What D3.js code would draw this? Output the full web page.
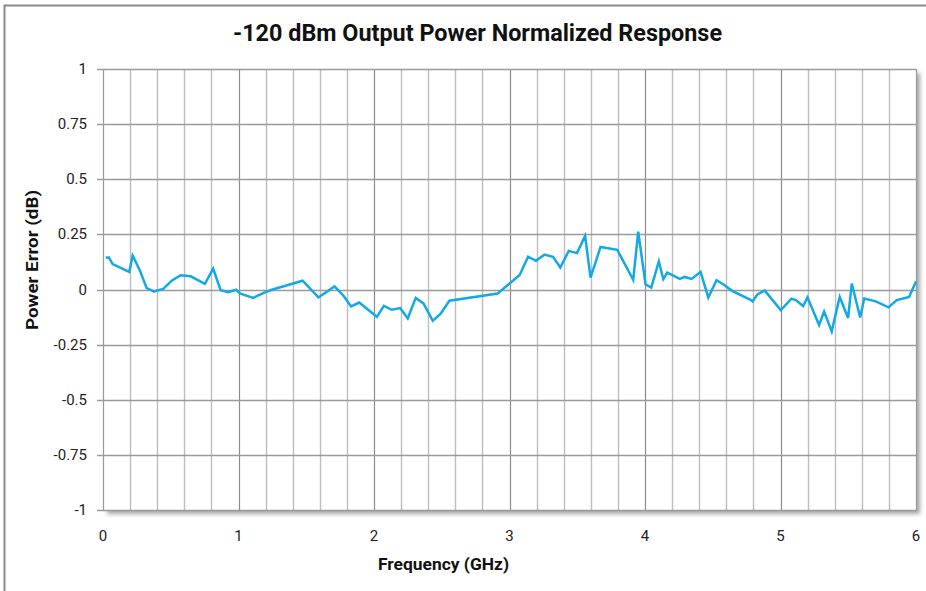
<!DOCTYPE html>
<html><head><meta charset="utf-8">
<script src="https://cdn.jsdelivr.net/npm/d3@7"></script>
<style>
html,body{margin:0;padding:0;background:#fff;overflow:hidden}
text{font-family:Roboto,"Liberation Sans",sans-serif}
</style></head><body>
<script>
const titleText = "-120 dBm Output Power Normalized Response";
const xLabel = "Frequency (GHz)";
const yLabel = "Power Error (dB)";
const xTicks = [0,1,2,3,4,5,6];
const yTicks = [-1,-0.75,-0.5,-0.25,0,0.25,0.5,0.75,1];
const yTickLabels = ["-1","-0.75","-0.5","-0.25","0","0.25","0.5","0.75","1"];
const freq = [0.02,0.044,0.071,0.194,0.219,0.273,0.322,0.376,0.445,0.507,0.573,0.647,0.752,0.813,0.868,0.924,0.981,1.01,1.108,1.195,1.246,1.473,1.59,1.709,1.775,1.831,1.891,2.021,2.073,2.132,2.193,2.249,2.308,2.365,2.434,2.49,2.557,2.913,3.075,3.137,3.196,3.257,3.321,3.375,3.437,3.498,3.558,3.598,3.672,3.795,3.913,3.95,4.004,4.046,4.102,4.135,4.164,4.257,4.292,4.344,4.41,4.467,4.528,4.577,4.643,4.779,4.794,4.831,4.884,5.002,5.081,5.113,5.167,5.199,5.285,5.322,5.378,5.437,5.499,5.526,5.588,5.618,5.703,5.797,5.858,5.949,6.0];
const error = [0.145,0.145,0.115,0.08,0.154,0.085,0.006,-0.009,0.003,0.04,0.065,0.06,0.026,0.095,-0.003,-0.012,-0.001,-0.018,-0.038,-0.013,-0.001,0.04,-0.036,0.014,-0.028,-0.077,-0.059,-0.124,-0.074,-0.092,-0.084,-0.131,-0.038,-0.063,-0.142,-0.111,-0.051,-0.018,0.066,0.149,0.13,0.158,0.148,0.1,0.175,0.165,0.243,0.054,0.193,0.18,0.044,0.262,0.024,0.009,0.127,0.047,0.076,0.048,0.057,0.048,0.08,-0.036,0.042,0.024,-0.006,-0.047,-0.054,-0.021,-0.005,-0.093,-0.042,-0.048,-0.075,-0.036,-0.161,-0.1,-0.19,-0.034,-0.129,0.027,-0.127,-0.041,-0.054,-0.081,-0.048,-0.034,0.036];

const W=926,H=591;
const m={left:103,right:916,top:69,bottom:510};
const svg=d3.select("body").append("svg").attr("width",W).attr("height",H);
const defs=svg.append("defs");
const f=defs.append("filter").attr("id","sh").attr("x","-5%").attr("y","-5%").attr("width","115%").attr("height","115%");
f.append("feDropShadow").attr("dx",4).attr("dy",4).attr("stdDeviation",2).attr("flood-color","#000").attr("flood-opacity",0.35);

// outer frame
svg.append("rect").attr("x",4.5).attr("y",5.5).attr("width",W+10).attr("height",H+10)
  .attr("fill","none").attr("stroke","#8a8a8a").attr("stroke-width",2);

const x=d3.scaleLinear().domain([0,6]).range([m.left,m.right]);
const y=d3.scaleLinear().domain([-1,1]).range([m.bottom,m.top]);

svg.append("rect").attr("x",m.left).attr("y",m.top).attr("width",m.right-m.left).attr("height",m.bottom-m.top)
  .attr("fill","#fff").attr("filter","url(#sh)");

// vertical grid every 0.2
const vg=d3.range(0,31).map(i=>i*0.2);
svg.append("g").selectAll("line").data(vg).join("line")
  .attr("x1",d=>Math.round(x(d))+0.5).attr("x2",d=>Math.round(x(d))+0.5)
  .attr("y1",m.top).attr("y2",m.bottom)
  .attr("stroke",(d,i)=>i%5===0?"#8c8c8c":"#bdbdbd").attr("stroke-width",(d,i)=>i%5===0?1.2:1.4);
// horizontal grid
svg.append("g").selectAll("line").data(yTicks).join("line")
  .attr("x1",m.left-6).attr("x2",m.right)
  .attr("y1",d=>Math.round(y(d))+0.5).attr("y2",d=>Math.round(y(d))+0.5)
  .attr("stroke","#9a9a9a").attr("stroke-width",1.4);
// border
svg.append("rect").attr("x",m.left+0.5).attr("y",m.top+0.5).attr("width",m.right-m.left).attr("height",m.bottom-m.top)
  .attr("fill","none").attr("stroke","#9a9a9a").attr("stroke-width",1);

// y labels
svg.append("g").selectAll("text").data(yTicks).join("text")
  .attr("x",87).attr("y",d=>y(d)+5).attr("text-anchor","end")
  .attr("font-size",15).attr("fill","#222").text((d,i)=>yTickLabels[i]);
// x labels
svg.append("g").selectAll("text").data(xTicks).join("text")
  .attr("x",d=>x(d)).attr("y",541).attr("text-anchor","middle")
  .attr("font-size",15).attr("fill","#222").text(d=>d);

// line
const data=freq.map((d,i)=>({f:d,v:error[i]}));
svg.append("path").datum(data).attr("fill","none").attr("stroke","#13a8e6").attr("stroke-width",2.5)
  .attr("stroke-linejoin","miter").attr("d",d3.line().x(d=>x(d.f)).y(d=>y(d.v)));

// title
svg.append("text").attr("x",233).attr("y",41)
  .attr("font-size",23).attr("font-weight","bold").attr("fill","#111")
  .attr("textLength",489).attr("lengthAdjust","spacingAndGlyphs").text(titleText);
svg.append("text").attr("x",378).attr("y",570)
  .attr("font-size",17).attr("font-weight","bold").attr("fill","#111")
  .attr("textLength",131).attr("lengthAdjust","spacingAndGlyphs").text(xLabel);
svg.append("text").attr("transform","translate(38,330) rotate(-90)")
  .attr("font-size",17).attr("font-weight","bold").attr("fill","#111")
  .attr("textLength",140).attr("lengthAdjust","spacingAndGlyphs").text(yLabel);
</script>
</body></html>
